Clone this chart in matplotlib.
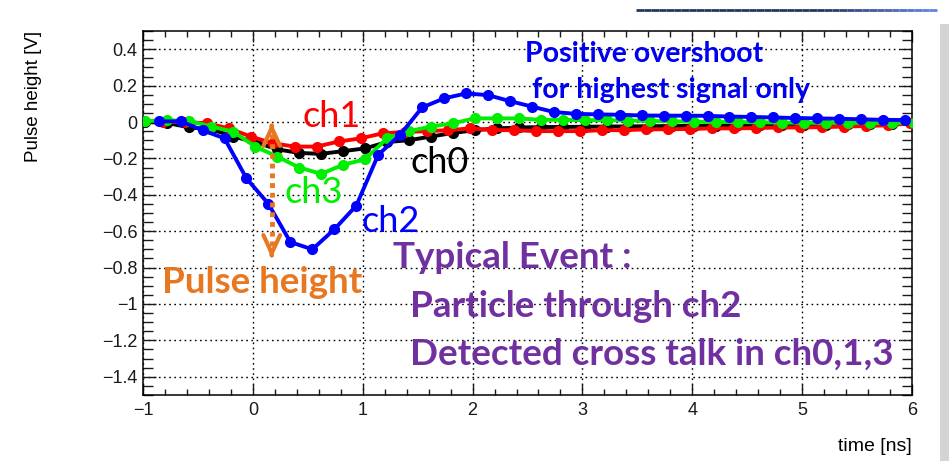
import numpy as np
import matplotlib.pyplot as plt
from matplotlib.ticker import MultipleLocator, FuncFormatter
from matplotlib.patches import Rectangle
from matplotlib.collections import LineCollection

plt.rcParams['font.family'] = ['Liberation Sans', 'DejaVu Sans']

# sample times (ns) for each channel
t_ch2 = [-0.86, -0.66, -0.46, -0.26, -0.06, 0.14, 0.34, 0.54, 0.74, 0.94,
         1.14, 1.34, 1.54, 1.74, 1.94, 2.14, 2.34, 2.54, 2.74, 2.94,
         3.14, 3.34, 3.54, 3.74, 3.94, 4.14, 4.34, 4.54, 4.74, 4.94,
         5.14, 5.34, 5.54, 5.74, 5.94]
t_ch03 = [-0.98, -0.78, -0.58, -0.38, -0.18, 0.02, 0.22, 0.42, 0.62, 0.82,
          1.02, 1.22, 1.42, 1.62, 1.82, 2.02, 2.22, 2.42, 2.62, 2.82,
          3.02, 3.22, 3.42, 3.62, 3.82, 4.02, 4.22, 4.42, 4.62, 4.82,
          5.02, 5.22, 5.42, 5.62, 5.82, 6.02]
t_ch1 = [-0.82, -0.62, -0.42, -0.22, -0.02, 0.18, 0.38, 0.58, 0.78, 0.98,
         1.18, 1.38, 1.58, 1.78, 1.98, 2.18, 2.38, 2.58, 2.78, 2.98,
         3.18, 3.38, 3.58, 3.78, 3.98, 4.18, 4.38, 4.58, 4.78, 4.98,
         5.18, 5.38, 5.58, 5.78, 5.98]

# pulse heights (V)
ch0 = [0.0, -0.005, -0.03, -0.04, -0.08, -0.11, -0.15, -0.17, -0.175, -0.16,
       -0.145, -0.11, -0.10, -0.08, -0.06, -0.045, -0.035, -0.03, -0.028, -0.027,
       -0.026, -0.025, -0.024, -0.023, -0.022, -0.021, -0.02, -0.019, -0.018, -0.017,
       -0.016, -0.015, -0.013, -0.012, -0.01, -0.01]
ch1 = [0.0, 0.0, -0.007, -0.035, -0.08, -0.117, -0.135, -0.135, -0.107, -0.09,
       -0.062, -0.055, -0.05, -0.045, -0.035, -0.044, -0.045, -0.05, -0.05, -0.05,
       -0.045, -0.045, -0.04, -0.04, -0.038, -0.035, -0.035, -0.033, -0.03, -0.03,
       -0.028, -0.025, -0.022, -0.018, -0.008]
ch2 = [0.003, 0.004, -0.045, -0.09, -0.31, -0.45, -0.66, -0.70, -0.59, -0.46,
       -0.18, -0.07, 0.08, 0.13, 0.157, 0.148, 0.115, 0.085, 0.055, 0.045,
       0.042, 0.04, 0.036, 0.035, 0.035, 0.034, 0.03, 0.028, 0.025, 0.022,
       0.02, 0.018, 0.015, 0.012, 0.011]
ch3 = [0.005, 0.01, 0.005, -0.025, -0.053, -0.135, -0.19, -0.25, -0.285, -0.235,
       -0.205, -0.09, -0.05, -0.025, -0.007, 0.02, 0.02, 0.02, 0.012, 0.012,
       0.01, 0.01, 0.008, 0.006, 0.004, 0.002, 0.0, 0.0, -0.002, -0.003,
       -0.004, -0.005, -0.005, -0.005, -0.005, -0.005]

# pulse height arrow
pulse_t = 0.17
pulse_top = -0.005
pulse_bottom = -0.748

orange = '#E87722'
purple = '#7030A0'
textblue = '#0000F0'

fig = plt.figure(figsize=(9.49, 4.61), dpi=100)
ax = fig.add_axes([0.1510, 0.1434, 0.8097, 0.7892])

series = [(t_ch03, ch0, 'black'), (t_ch1, ch1, '#FF0000'),
          (t_ch03, ch3, '#00EE00'), (t_ch2, ch2, '#0000FF')]
for t, v, c in series:
    ax.plot(t, v, color=c, lw=2.8, marker='o', ms=7, mec=c, mfc=c, zorder=3)

ax.set_xlim(-1, 6)
ax.set_ylim(-1.5, 0.5)

# ROOT-like axes
ax.xaxis.set_major_locator(MultipleLocator(1))
ax.xaxis.set_minor_locator(MultipleLocator(0.2))
ax.yaxis.set_major_locator(MultipleLocator(0.2))
ax.yaxis.set_minor_locator(MultipleLocator(0.05))


def root_fmt(v, pos):
    v = round(v, 6)
    if v == 0:
        return '0'
    return ('%g' % v).replace('-', '\u2212')


ax.xaxis.set_major_formatter(FuncFormatter(root_fmt))
ax.yaxis.set_major_formatter(FuncFormatter(root_fmt))
ax.tick_params(which='both', direction='in', top=True, right=True,
               labelsize=13, colors='#1a1a1a', width=1.0)
ax.tick_params(axis='x', which='major', length=8, pad=5)
ax.tick_params(axis='x', which='minor', length=4)
ax.tick_params(axis='y', which='major', length=9, pad=4)
ax.tick_params(axis='y', which='minor', length=7)
for s in ax.spines.values():
    s.set_linewidth(1.1)
ax.grid(True, which='major', color='black', ls=(0, (1.2, 2.5)), lw=1.0)
ax.set_axisbelow(True)

ax.set_ylabel('Pulse height [V]', fontsize=13.5, loc='top')
ax.yaxis.set_label_coords(-0.132, 1.0)
ax.set_xlabel('time [ns]', fontsize=14, loc='right')
ax.xaxis.set_label_coords(1.0, -0.118)

# channel labels
slide = ['Lato', 'DejaVu Sans']
ax.text(0.446, -0.0275, 'ch1', color='#FF0000', fontsize=26, family=slide, zorder=5)
ax.text(1.430, -0.280, 'ch0', color='black', fontsize=26, family=slide, zorder=5)
ax.text(0.290, -0.445, 'ch3', color='#00EE00', fontsize=26, family=slide, zorder=5)
ax.text(0.992, -0.605, 'ch2', color='#0000FF', fontsize=26, family=slide, zorder=5)

ax.text(2.477, 0.33, 'Positive overshoot', color=textblue, fontsize=20.5,
        fontweight='bold', family=slide, zorder=5)
ax.text(2.541, 0.132, 'for highest signal only', color=textblue, fontsize=20.5,
        fontweight='bold', family=slide, zorder=5)

ax.text(-0.830, -0.940, 'Pulse height', color=orange, fontsize=26.5,
        fontweight='bold', family=slide, zorder=5)
ax.text(1.275, -0.803, 'Typical Event :', color=purple, fontsize=26.5,
        fontweight='bold', family=slide, zorder=5)
ax.text(1.430, -1.072, 'Particle through ch2', color=purple, fontsize=26.5,
        fontweight='bold', family=slide, zorder=5)
ax.text(1.430, -1.336, 'Detected cross talk in ch0,1,3', color=purple, fontsize=26.5,
        fontweight='bold', family=slide, zorder=5)

# dotted double arrow
ax.plot([pulse_t, pulse_t], [pulse_top - 0.06, pulse_bottom + 0.06], color=orange,
        lw=3.5, ls=(0, (1, 1)), solid_capstyle='butt', zorder=4)
for tip, tail in [(pulse_top, pulse_top - 0.02), (pulse_bottom, pulse_bottom + 0.02)]:
    ax.annotate('', xy=(pulse_t, tip), xytext=(pulse_t, tail),
                arrowprops=dict(arrowstyle='->,head_length=1.3,head_width=0.6',
                                color=orange, lw=3, shrinkA=0, shrinkB=0),
                zorder=4)

# slide decorations
n = 40
xs = np.linspace(636 / 949, 937 / 949, n + 1)
segs = [[(xs[i], 1 - 10 / 461), (xs[i + 1], 1 - 10 / 461)] for i in range(n)]
cols = [(0.12 + 0.6 * max(0, i / n - 0.6) * 2.5 * 0.5, 0.22 + 0.5 * max(0, i / n - 0.6) * 2.5 * 0.6,
         0.39 + 0.6 * max(0, i / n - 0.6) * 2.5 * 0.9) for i in range(n)]
cols = [tuple(min(1, c) for c in col) for col in cols]
fig.add_artist(LineCollection(segs, colors=cols, linewidths=2, transform=fig.transFigure))
fig.add_artist(Rectangle((940 / 949, 0), 9 / 949, 1 - 24 / 461, transform=fig.transFigure,
                         facecolor='#d4d4d4', edgecolor='none'))

fig.savefig('out.png', dpi=100)
